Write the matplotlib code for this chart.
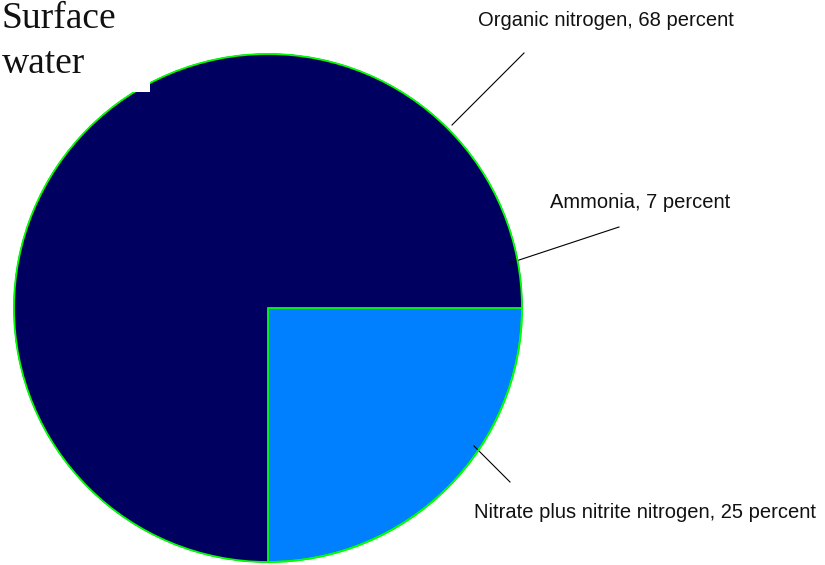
import matplotlib.pyplot as plt
from matplotlib.patches import Circle, Rectangle

# nitrogen forms in surface water, percent
forms = ['Ammonia', 'Organic nitrogen', 'Nitrate plus nitrite nitrogen']
percents = [7, 68, 25]
colors = ['#000060', '#000060', '#0080ff']

W, H = 825, 565
fig = plt.figure(figsize=(W / 100, H / 100), dpi=100)
ax = fig.add_axes([0, 0, 1, 1])

cx, cy, r = 268, H - 308, 254
wedges, _ = ax.pie(percents, colors=colors, startangle=0, counterclock=True,
                   center=(cx, cy), radius=r, wedgeprops=dict(linewidth=0))
# hide the seam between the two dark slices
for w, c in zip(wedges[:2], colors[:2]):
    w.set_edgecolor(c)
    w.set_linewidth(0.8)
# only the nitrate slice and the rim get a green edge
wedges[2].set_edgecolor('#00ff00')
wedges[2].set_linewidth(1.3)
wedges[2].set_zorder(2)
ax.add_patch(Circle((cx, cy), r, fill=False, edgecolor='#00ff00', linewidth=1.3, zorder=3))

# small white notch near the top left of the pie
ax.add_patch(Rectangle((133, H - 92), 17, 10, facecolor='white', edgecolor='none', zorder=4))

ax.set_xlim(0, W)
ax.set_ylim(0, H)
ax.set_aspect('equal')
ax.axis('off')

# labels and leader lines
lab = {
    'Organic nitrogen': ((478, 20), [(452, 125), (524, 53)]),
    'Ammonia': ((550, 202), [(510, 263), (619, 227)]),
    'Nitrate plus nitrite nitrogen': ((474, 512), [(474, 446), (510, 482)]),
}
for name, pct in zip(forms, percents):
    (tx, ty), line = lab[name]
    ax.text(tx, H - ty, f'{name}, {pct} percent', fontsize=14.5,
            family='Liberation Sans', ha='left', va='center', color='#111111')
    ax.plot([p[0] for p in line], [H - p[1] for p in line], color='black', linewidth=0.8)

ax.text(2, H - 28, 'Surface', fontsize=27, family='Liberation Serif',
        ha='left', va='baseline', color='#111111')
ax.text(2, H - 73, 'water', fontsize=27, family='Liberation Serif',
        ha='left', va='baseline', color='#111111')

fig.savefig('out.png', dpi=100)
